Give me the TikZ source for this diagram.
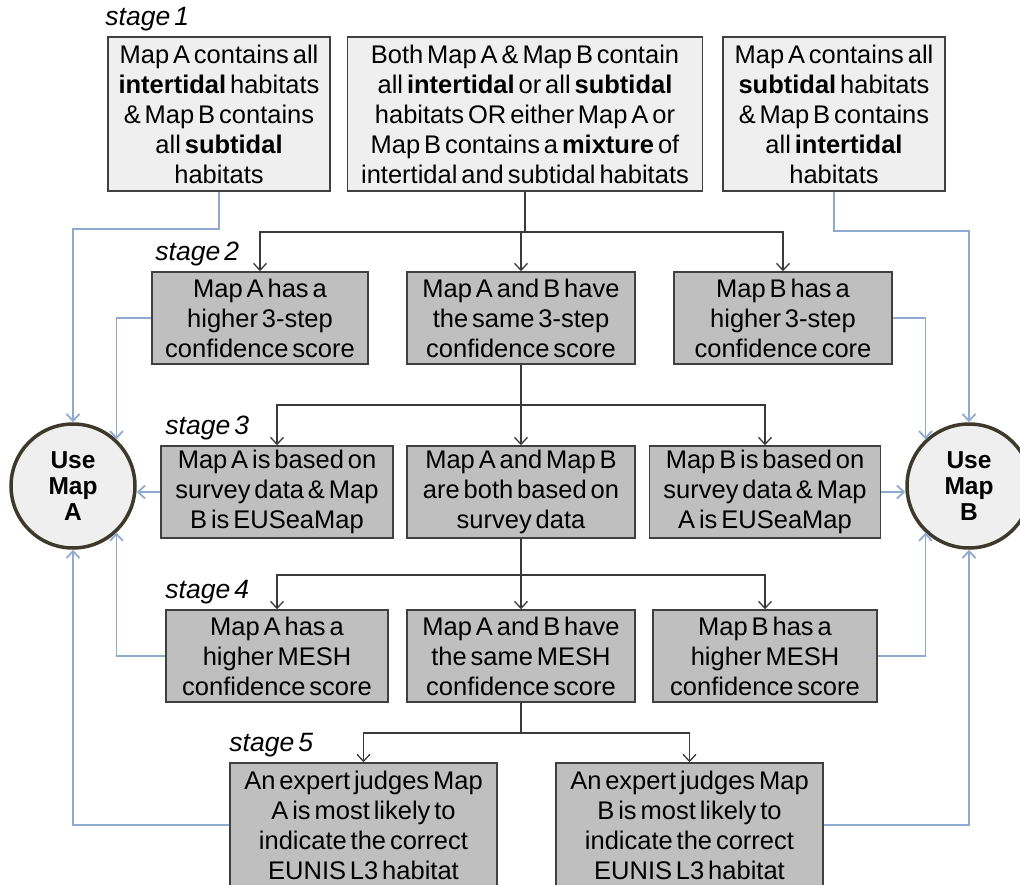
\documentclass[tikz,border=0pt]{standalone}
\usepackage{fontspec}
\setmainfont{Liberation Sans}[WordSpace=0.55]
\usetikzlibrary{arrows.meta, positioning}
\definecolor{boxline}{HTML}{404040}
\definecolor{lightfill}{HTML}{EFEFEF}
\definecolor{darkfill}{HTML}{BFBFBF}
\definecolor{backblue}{HTML}{8FAAD0}
\definecolor{ringline}{HTML}{3D3A2C}
\definecolor{flowline}{HTML}{3A3A3A}
\tikzset{
  stagebox/.style={draw=boxline, line width=1.5pt, align=center, inner sep=0pt,
    font=\fontsize{25.5}{30}\selectfont},
  firstbox/.style={stagebox, fill=lightfill, minimum height=154pt},
  laterbox/.style={stagebox, fill=darkfill, minimum height=92pt},
  stagelabel/.style={inner sep=0pt, font=\fontsize{26.5}{26.5}\selectfont\itshape},
  usecircle/.style={circle, draw=ringline, line width=3.5pt, fill=lightfill,
    minimum size=124pt, inner sep=0pt, align=center,
    font=\fontsize{24.5}{26}\selectfont\bfseries},
  flow/.style={->, draw=flowline, line width=1.3pt},
  back/.style={->, draw=backblue, line width=1.8pt}
}

\begin{document}
\begin{tikzpicture}[x=1pt, y=-1pt, >={Straight Barb[length=7pt, width=13pt]}]
    \useasboundingbox (0,0) rectangle (1020,885);
    % Stage 1 boxes
        \node[firstbox, minimum width=222pt] (s1l) at (219,114) {Map A contains all\\\textbf{intertidal} habitats\\\& Map B contains\\all \textbf{subtidal}\\habitats};
        \node[firstbox, minimum width=355pt] (s1m) at (525,114) {Both Map A \& Map B contain\\all \textbf{intertidal} or all \textbf{subtidal}\\habitats OR either Map A or\\Map B contains a \textbf{mixture} of\\intertidal and subtidal habitats};
        \node[firstbox, minimum width=222pt] (s1r) at (834,114) {Map A contains all\\\textbf{subtidal} habitats\\\& Map B contains\\all \textbf{intertidal}\\habitats};
        % Stage 2 boxes
        \node[laterbox, minimum width=216pt] (s2l) at (260,318) {Map A has a\\higher 3-step\\confidence score};
        \node[laterbox, minimum width=228pt] (s2m) at (521,318) {Map A and B have\\the same 3-step\\confidence score};
        \node[laterbox, minimum width=218pt] (s2r) at (783,318) {Map B has a\\higher 3-step\\confidence core};
        % Stage 3 boxes
        \node[laterbox, minimum width=232pt] (s3l) at (277,492) {Map A is based on\\survey data \& Map\\B is EUSeaMap};
        \node[laterbox, minimum width=228pt] (s3m) at (521,492) {Map A and Map B\\are both based on\\survey data};
        \node[laterbox, minimum width=231pt] (s3r) at (765,492) {Map B is based on\\survey data \& Map\\A is EUSeaMap};
        % Stage 4 boxes
        \node[laterbox, minimum width=222pt] (s4l) at (277,656) {Map A has a\\higher MESH\\confidence score};
        \node[laterbox, minimum width=228pt] (s4m) at (521,656) {Map A and B have\\the same MESH\\confidence score};
        \node[laterbox, minimum width=224pt] (s4r) at (765,656) {Map B has a\\higher MESH\\confidence score};
        % Stage 5 boxes
        \node[laterbox, minimum width=267pt, minimum height=124pt] (s5l) at (363.5,825) {An expert judges Map\\A is most likely to\\indicate the correct\\EUNIS L3 habitat};
        \node[laterbox, minimum width=267pt, minimum height=124pt] (s5r) at (689.5,825) {An expert judges Map\\B is most likely to\\indicate the correct\\EUNIS L3 habitat};
        % Stage labels
        \node[stagelabel, above right=5pt and -2pt of s1l.north west] (lab1) {stage 1};
        \node[stagelabel, above right=5pt and 4pt of s2l.north west] (lab2) {stage 2};
        \node[stagelabel, above right=5pt and 5pt of s3l.north west] (lab3) {stage 3};
        \node[stagelabel, above right=5pt and 0pt of s4l.north west] (lab4) {stage 4};
        \node[stagelabel, above right=5pt and 0pt of s5l.north west] (lab5) {stage 5};
        % The two outcomes
        \node[usecircle] (usea) at (73,486) {Use\\Map\\A};
        \node[usecircle] (useb) at (969,486) {Use\\Map\\B};
        % Black arrows from stage to stage
        \coordinate (j1) at (525,232);
        \coordinate (j2) at (521,405);
        \coordinate (j3) at (521,575);
        \coordinate (j4) at (521,733);
        \draw[flow, -] (s1m) -- (j1);
        \draw[flow] (j1) -| (s2l);
        \draw[flow] (j1) -| (s2r);
        \draw[flow] (j1 -| s2m) -- (s2m);
        \draw[flow, -] (s2m) -- (j2);
        \draw[flow] (j2) -| (s3l);
        \draw[flow] (j2) -| (s3r);
        \draw[flow] (j2) -- (s3m);
        \draw[flow, -] (s3m) -- (j3);
        \draw[flow] (j3) -| (s4l);
        \draw[flow] (j3) -| (s4r);
        \draw[flow] (j3) -- (s4m);
        \draw[flow, -] (s4m) -- (j4);
        \draw[flow] (j4) -| (s5l);
        \draw[flow] (j4) -| (s5r);
        % Blue arrows into Use Map A
        \draw[back] (s1l.south) -- ++(0,37) -| (usea);
        \draw[back] (s2l.west) -| (usea.47);
        \draw[back] (s3l.west) -- (s3l.west -| usea.east);
        \draw[back] (s4l.west) -| (usea.-47);
        \draw[back] (s5l.west) -| (usea);
        % Blue arrows into Use Map B
        \draw[back] (s1r.south) -- ++(0,39) -| (useb);
        \draw[back] (s2r.east) -| (useb.133);
        \draw[back] (s3r.east) -- (s3r.east -| useb.west);
        \draw[back] (s4r.east) -| (useb.-133);
        \draw[back] (s5r.east) -| (useb);
\end{tikzpicture}
\end{document}
